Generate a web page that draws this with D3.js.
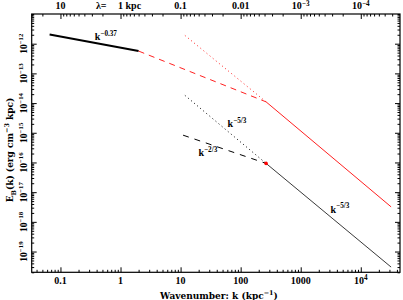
<!DOCTYPE html>
<html>
<head>
<meta charset="utf-8">
<script src="https://cdn.jsdelivr.net/npm/d3@7"></script>
<style>
  body { margin: 0; background: #fff; }
  text { font-family: "DejaVu Serif", "Liberation Serif", serif; font-weight: bold; fill: #000; }
  .tick-label, .slope-label { font-family: "Liberation Serif", "DejaVu Serif", serif; }
</style>
</head>
<body>
<div id="wrapper"></div>
<script>
// 1. Data (k in kpc^-1, E_B in erg cm^-3 kpc)

const largeScaleK = [0.066, 2];
const largeScaleE = [2.05e-12, 5.64e-13];

const redDashedK = [2, 265];
const redDashedE = [5.64e-13, 1.1e-14];

const redDottedK = [11.8, 265];
const redDottedE = [1.9e-12, 1.1e-14];

const redSolidK = [265, 32000];
const redSolidE = [1.1e-14, 3.2e-18];

const blackDottedK = [11.8, 265];
const blackDottedE = [1.82e-14, 9.3e-17];

const blackDashedK = [11, 265];
const blackDashedE = [8.3e-16, 9.3e-17];

const blackSolidK = [265, 32000];
const blackSolidE = [9.3e-17, 3.0e-20];

const markerK = [265];
const markerE = [9.3e-17];

const kTicks = [0.1, 1, 10, 100, 1000, 1e4];
const kTickText = ["0.1", "1", "10", "100", "1000", "10^{4}"];

const lambdaTicks = [10, 1, 0.1, 0.01, 1e-3, 1e-4];
const lambdaTickText = ["10", "1", "0.1", "0.01", "10^{−3}", "10^{−4}"];

const eTicks = [1e-19, 1e-18, 1e-17, 1e-16, 1e-15, 1e-14, 1e-13, 1e-12];
const eTickText = ["10^{−19}", "10^{−18}", "10^{−17}", "10^{−16}", "10^{−15}", "10^{−14}", "10^{−13}", "10^{−12}"];

const slopeLabels = ["k^{−0.37}", "k^{−5/3}", "k^{−2/3}", "k^{−5/3}"];
const slopeLabelK = [0.57, 87, 28.5, 4500];
const slopeLabelE = [1.29e-12, 1.55e-15, 1.64e-16, 2.0e-18];

// 2. Dimensions

const dimensions = {
  width: 403,
  height: 300,
  margin: { top: 14, right: 3, bottom: 27.7, left: 31.7 },
};
dimensions.boundedWidth = dimensions.width - dimensions.margin.left - dimensions.margin.right;
dimensions.boundedHeight = dimensions.height - dimensions.margin.top - dimensions.margin.bottom;

// 3. Canvas

const wrapper = d3.select("#wrapper")
  .append("svg")
    .attr("width", dimensions.width)
    .attr("height", dimensions.height);

const bounds = wrapper.append("g")
    .attr("transform", `translate(${dimensions.margin.left},${dimensions.margin.top})`);

// 4. Scales

const xScale = d3.scaleLog()
    .domain([0.0332, 45000])
    .range([0, dimensions.boundedWidth]);

const yScale = d3.scaleLog()
    .domain([2e-20, 1e-11])
    .range([dimensions.boundedHeight, 0]);

// helper: text with ^{sup} and _{sub}
function richText(sel, str, size, rise = 0.45) {
  const parts = str.split(/([\^_]\{[^}]*\})/).filter(s => s.length);
  let shift = 0;
  parts.forEach(p => {
    if (p[0] === "^" || p[0] === "_") {
      const up = p[0] === "^";
      const target = up ? -rise * size : 0.3 * size;
      sel.append("tspan")
          .attr("dy", target - shift)
          .attr("font-size", size * 0.72)
          .text(p.slice(2, -1));
      shift = target;
    } else {
      sel.append("tspan")
          .attr("dy", -shift)
          .attr("font-size", size)
          .text(p);
      shift = 0;
    }
  });
}

// 5. Data

const line = d3.line()
    .x(d => xScale(d[0]))
    .y(d => yScale(d[1]));

const series = [
  { k: largeScaleK, e: largeScaleE, color: "#000", width: 2, dash: null },
  { k: redDashedK, e: redDashedE, color: "#ff2020", width: 1, dash: "6,5" },
  { k: redDottedK, e: redDottedE, color: "#ff2020", width: 1, dash: "1,3" },
  { k: redSolidK, e: redSolidE, color: "#ff2020", width: 1, dash: null },
  { k: blackDottedK, e: blackDottedE, color: "#000", width: 1, dash: "1,3" },
  { k: blackDashedK, e: blackDashedE, color: "#000", width: 1, dash: "6,6" },
  { k: blackSolidK, e: blackSolidE, color: "#222", width: 0.9, dash: null },
];

bounds.selectAll(".series")
  .data(series)
  .join("path")
    .attr("class", "series")
    .attr("d", s => line(d3.zip(s.k, s.e)))
    .attr("fill", "none")
    .attr("stroke", s => s.color)
    .attr("stroke-width", s => s.width)
    .attr("stroke-dasharray", s => s.dash);

bounds.selectAll(".marker")
  .data(d3.zip(markerK, markerE))
  .join("circle")
    .attr("class", "marker")
    .attr("cx", d => xScale(d[0]))
    .attr("cy", d => yScale(d[1]))
    .attr("r", 1.8)
    .attr("fill", "#ff0000");

slopeLabels.forEach((t, i) => {
  const txt = bounds.append("text")
      .attr("class", "slope-label")
      .attr("x", xScale(slopeLabelK[i]))
      .attr("y", yScale(slopeLabelE[i]))
      .attr("text-anchor", "middle");
  richText(txt, t, 10);
});

// 6. Peripherals

const majorLen = 5, minorLen = 2.5;
const kMinor = xScale.ticks().filter(v => !kTicks.some(m => Math.abs(m / v - 1) < 1e-6));
const lambdaMinor = d3.range(-5, 2).flatMap(p => d3.range(2, 10).map(m => m * Math.pow(10, p)));
const lambdaMinorK = lambdaMinor.map(l => 1 / l).filter(k => k > xScale.domain()[0] && k < xScale.domain()[1]);
const eMinor = yScale.ticks().filter(v => !eTicks.some(m => Math.abs(m / v - 1) < 1e-6));

function tickAxis(axis, values, len, transform) {
  const g = bounds.append("g")
      .attr("transform", transform)
      .call(axis.tickValues(values).tickSize(-len).tickFormat(""));
  g.select(".domain").remove();
  g.selectAll(".tick line").attr("stroke", "#000").attr("stroke-width", 1);
}

const bw = dimensions.boundedWidth, bh = dimensions.boundedHeight;
tickAxis(d3.axisBottom(xScale), kTicks, majorLen, `translate(0,${bh})`);
tickAxis(d3.axisBottom(xScale), kMinor, minorLen, `translate(0,${bh})`);
tickAxis(d3.axisTop(xScale), lambdaTicks.map(l => 1 / l), majorLen, "translate(0,0)");
tickAxis(d3.axisTop(xScale), lambdaMinorK, minorLen, "translate(0,0)");
tickAxis(d3.axisLeft(yScale), eTicks, majorLen, "translate(0,0)");
tickAxis(d3.axisLeft(yScale), eMinor, minorLen, "translate(0,0)");
tickAxis(d3.axisRight(yScale), eTicks, majorLen, `translate(${bw},0)`);
tickAxis(d3.axisRight(yScale), eMinor, minorLen, `translate(${bw},0)`);

bounds.append("rect")
    .attr("width", bw)
    .attr("height", bh)
    .attr("fill", "none")
    .attr("stroke", "#000")
    .attr("stroke-width", 1.2);

// bottom tick labels
kTicks.forEach((v, i) => {
  const t = bounds.append("text")
      .attr("class", "tick-label")
      .attr("x", xScale(v))
      .attr("y", bh + 11.5)
      .attr("text-anchor", "middle");
  richText(t, kTickText[i], 10, 0.35);
});

// top tick labels (lambda = 1/k)
lambdaTicks.forEach((l, i) => {
  const t = bounds.append("text")
      .attr("class", "tick-label")
      .attr("x", xScale(1 / l))
      .attr("y", -5)
      .attr("text-anchor", "middle");
  richText(t, lambdaTickText[i], 10, 0.3);
  if (l === 1) {
    bounds.append("text")
        .attr("class", "tick-label")
        .attr("x", xScale(1 / l) - 14)
        .attr("y", -5)
        .attr("text-anchor", "end")
        .attr("font-size", 10)
        .text("λ=");
    bounds.append("text")
        .attr("class", "tick-label")
        .attr("x", xScale(1 / l) + 5)
        .attr("y", -5)
        .attr("text-anchor", "start")
        .attr("font-size", 10)
        .text("kpc");
  }
});

// left tick labels (rotated)
eTicks.forEach((v, i) => {
  const t = bounds.append("text")
      .attr("class", "tick-label")
      .attr("transform", `translate(-5,${yScale(v)}) rotate(-90)`)
      .attr("text-anchor", "middle");
  richText(t, eTickText[i], 9.5, 0.4);
});

// axis titles
const xTitle = wrapper.append("text")
    .attr("x", 219)
    .attr("y", 298.5)
    .attr("text-anchor", "middle");
richText(xTitle, "Wavenumber:  k (kpc^{−1})", 9, 0.35);

const yTitle = wrapper.append("text")
    .attr("transform", "translate(13,150) rotate(-90)")
    .attr("text-anchor", "middle");
richText(yTitle, "E_{B}(k)  (erg cm^{−3} kpc)", 9);
</script>
</body>
</html>
